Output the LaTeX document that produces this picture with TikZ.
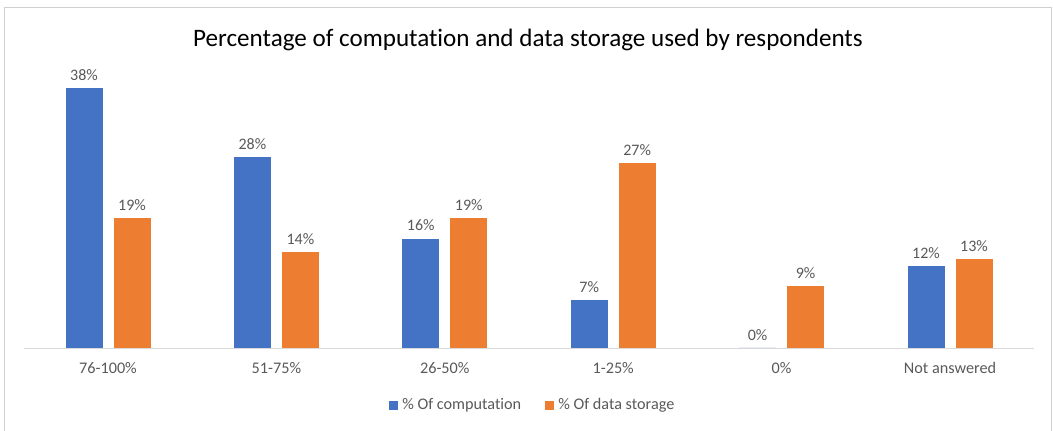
\documentclass[tikz,border=0pt]{standalone}
\usepackage{fontspec}
\setmainfont{Carlito}[Ligatures={NoCommon}]
\usetikzlibrary{positioning}
\definecolor{compblue}{HTML}{4472C4}
\definecolor{storeorange}{HTML}{ED7D31}
\definecolor{labelgray}{HTML}{595959}
\definecolor{framegray}{HTML}{D0D0D0}
\definecolor{axisgray}{HTML}{D9D9D9}

\tikzset{
  bar/.style={inner sep=0pt, minimum width=37pt, anchor=south, draw=none},
  vallabel/.style={labelgray, font=\fontsize{16}{16}\selectfont, anchor=south, inner sep=0pt, yshift=7pt},
  catlabel/.style={labelgray, font=\fontsize{16.2}{16.2}\selectfont, inner sep=0pt},
  keybox/.style={inner sep=0pt, minimum size=9pt},
}

\begin{document}
\begin{tikzpicture}[x=1pt, y=-1pt]
  \useasboundingbox (0,0) rectangle (1053,431);

  % chart frame
  \draw[framegray, line width=1.2pt] (4.5,435) -- (4.5,7.5) -- (1051.5,7.5) -- (1051.5,435);

  \node[black, font=\fontsize{25.1}{25.1}\selectfont] (title) at (528,40) {Percentage of computation and data storage used by respondents};

  % category axis
  \coordinate (axisL) at (24,348);
  \coordinate (axisR) at (1034,348);
  \draw[axisgray, line width=1pt] (axisL) -- (axisR);

  % bars: index / category / computation / storage
  \foreach \i/\cat/\comp/\store in {0/76-100\%/38/19, 1/51-75\%/28/14, 2/26-50\%/16/19,
                                    3/1-25\%/7/27, 4/0\%/0/9, 5/Not answered/12/13} {
    \pgfmathsetmacro{\cx}{108+168.4*\i}
    \node[bar, fill=compblue, minimum height=\comp*6.83pt] (comp\i) at (\cx-24,348) {};
    \node[bar, fill=storeorange, minimum height=\store*6.83pt] (store\i) at (\cx+24,348) {};
    \node[vallabel] (compval\i) at (comp\i.north) {\comp\%};
    \node[vallabel] (storeval\i) at (store\i.north) {\store\%};
    \node[catlabel] (cat\i) at (\cx,368) {\cat};
  }

  % legend
  \node[keybox, fill=compblue] (keycomp) at (393.5,405) {};
  \node[catlabel, right=4pt of keycomp] (keycomptext) {\% Of computation};
  \node[keybox, fill=storeorange] (keystore) at (549.5,405) {};
  \node[catlabel, right=4pt of keystore] (keystoretext) {\% Of data storage};
\end{tikzpicture}
\end{document}
